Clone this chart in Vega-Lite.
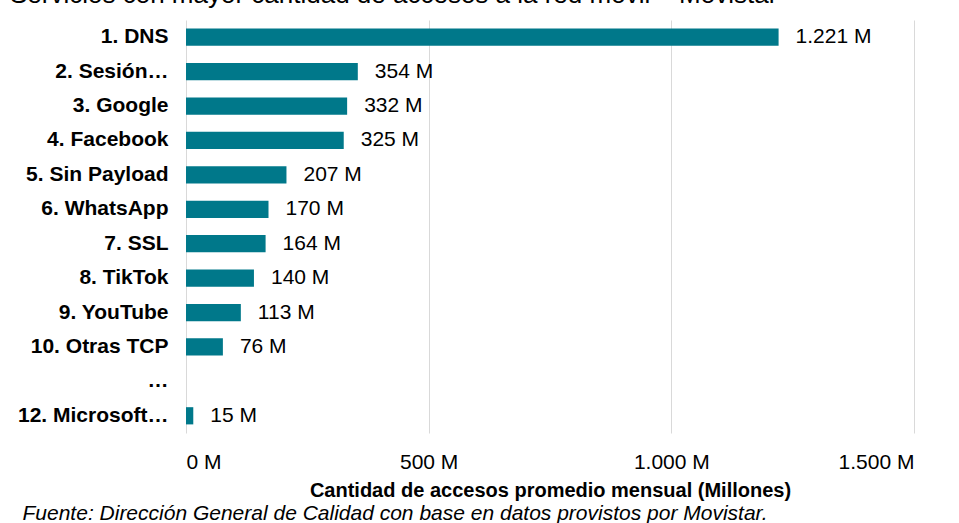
{
  "$schema": "https://vega.github.io/schema/vega-lite/v6.json",
  "autosize": "none",
  "width": 728,
  "height": 413,
  "padding": {"top": 20, "left": 186, "right": 45, "bottom": 90},
  "background": "#ffffff",
  "title": {
    "text": "Servicios con mayor cantidad de accesos a la red móvil – Movistar",
    "anchor": "start",
    "frame": "group",
    "orient": "top",
    "offset": 0,
    "baseline": "alphabetic",
    "dx": -176,
    "dy": 9,
    "font": "Liberation Sans",
    "fontSize": 26,
    "fontWeight": "normal",
    "color": "#000000"
  },
  "data": {
    "values": [
      {"cat": "1. DNS", "v": 1221},
      {"cat": "2. Sesión…", "v": 354},
      {"cat": "3. Google", "v": 332},
      {"cat": "4. Facebook", "v": 325},
      {"cat": "5. Sin Payload", "v": 207},
      {"cat": "6. WhatsApp", "v": 170},
      {"cat": "7. SSL", "v": 164},
      {"cat": "8. TikTok", "v": 140},
      {"cat": "9. YouTube", "v": 113},
      {"cat": "10. Otras TCP", "v": 76},
      {"cat": "…", "v": null},
      {"cat": "12. Microsoft…", "v": 15}
    ]
  },
  "encoding": {
    "y": {
      "field": "cat",
      "type": "nominal",
      "sort": null,
      "scale": {
        "domain": ["1. DNS", "2. Sesión…", "3. Google", "4. Facebook", "5. Sin Payload", "6. WhatsApp", "7. SSL", "8. TikTok", "9. YouTube", "10. Otras TCP", "…", "12. Microsoft…"],
        "paddingInner": 0.5,
        "paddingOuter": 0.25
      },
      "axis": {
        "title": "Fuente: Dirección General de Calidad con base en datos provistos por Movistar.",
        "titleAngle": 0,
        "titleX": -164,
        "titleY": 499,
        "titleAlign": "left",
        "titleBaseline": "alphabetic",
        "titleFont": "Liberation Sans",
        "titleFontSize": 21,
        "titleFontStyle": "italic",
        "titleFontWeight": "normal",
        "titleColor": "#000000",
        "labelFont": "Liberation Sans",
        "labelFontSize": 21,
        "labelFontWeight": "bold",
        "labelColor": "#000000",
        "labelPadding": 18,
        "labelLimit": 400,
        "ticks": false,
        "domain": false,
        "grid": false
      }
    },
    "x": {
      "field": "v",
      "type": "quantitative",
      "scale": {"domain": [0, 1500], "nice": false},
      "axis": {
        "values": [0, 500, 1000, 1500],
        "labelExpr": "replace(format(datum.value, ','), ',', '.') + ' M'",
        "title": "Cantidad de accesos promedio mensual (Millones)",
        "titleFont": "Liberation Sans",
        "titleFontSize": 20,
        "titleFontWeight": "bold",
        "titleColor": "#000000",
        "titlePadding": 8,
        "labelFont": "Liberation Sans",
        "labelFontSize": 21,
        "labelColor": "#000000",
        "labelPadding": 18,
        "ticks": false,
        "domain": false,
        "grid": true,
        "gridColor": "#d9d9d9",
        "gridWidth": 1
      }
    }
  },
  "layer": [
    {"mark": {"type": "bar", "color": "#00788A"}},
    {
      "mark": {
        "type": "text",
        "align": "left",
        "baseline": "middle",
        "dx": 17,
        "font": "Liberation Sans",
        "fontSize": 21,
        "color": "#000000",
        "text": {"expr": "replace(format(datum.v, ','), ',', '.') + ' M'"}
      }
    }
  ],
  "config": {"view": {"stroke": null}}
}
